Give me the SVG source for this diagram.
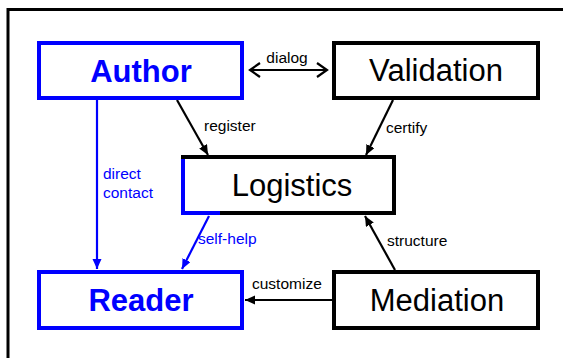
<svg xmlns="http://www.w3.org/2000/svg" width="563" height="358" viewBox="0 0 563 358">
<style>
.box{fill:#fff;stroke:#000;stroke-width:4}
.bbox{fill:#fff;stroke:#0000ff;stroke-width:4}
.big{font-family:"Liberation Sans",Arial,sans-serif;font-size:31px;text-anchor:middle;fill:#000}
.bigb{font-family:"Liberation Sans",Arial,sans-serif;font-size:31px;font-weight:bold;text-anchor:middle;fill:#0000ff}
.lbl{font-family:"Liberation Sans",Arial,sans-serif;font-size:15.5px;fill:#000}
.lblb{font-family:"Liberation Sans",Arial,sans-serif;font-size:15.5px;fill:#0000ff}
.c{fill:none;stroke:#000;stroke-width:2.2}
.cb{fill:none;stroke:#0000ff;stroke-width:2.2}
</style>
<defs>
<marker id="ak" markerUnits="userSpaceOnUse" markerWidth="11" markerHeight="10" refX="10" refY="4.5" orient="auto"><path d="M0,0 L10,4.5 L0,9 z" fill="#000"/></marker>
<marker id="ab" markerUnits="userSpaceOnUse" markerWidth="11" markerHeight="10" refX="10" refY="4.5" orient="auto"><path d="M0,0 L10,4.5 L0,9 z" fill="#0000ff"/></marker>
<marker id="ao" markerUnits="userSpaceOnUse" markerWidth="13" markerHeight="18" refX="11" refY="8" orient="auto-start-reverse"><path d="M1,1 L11,8 L1,15" fill="none" stroke="#000" stroke-width="2.2"/></marker>
</defs>
<rect x="0" y="0" width="563" height="358" fill="#fff"/>
<rect x="8" y="9.5" width="600" height="400" fill="none" stroke="#000" stroke-width="3"/>
<g id="connectors">
<line class="c" x1="250" y1="70" x2="327" y2="70" marker-start="url(#ao)" marker-end="url(#ao)"/>
<line class="c" x1="177" y1="100" x2="208" y2="155" marker-end="url(#ak)"/>
<line class="c" x1="393" y1="100" x2="366" y2="155" marker-end="url(#ak)"/>
<line class="cb" x1="97" y1="100" x2="97" y2="269" marker-end="url(#ab)"/>
<line class="cb" x1="209" y1="216" x2="182" y2="269" marker-end="url(#ab)"/>
<line class="c" x1="395" y1="270" x2="365" y2="216" marker-end="url(#ak)"/>
<line class="c" x1="332" y1="300" x2="245" y2="300" marker-end="url(#ak)"/>
<text class="lbl" x="287" y="63" text-anchor="middle">dialog</text>
<text class="lbl" x="204" y="131">register</text>
<text class="lbl" x="386" y="133">certify</text>
<text class="lblb" x="103" y="179">direct</text>
<text class="lblb" x="103" y="198">contact</text>
<text class="lblb" x="198" y="244">self-help</text>
<text class="lbl" x="387" y="246">structure</text>
<text class="lbl" x="252" y="289">customize</text>
</g>
<g id="author"><rect class="bbox" x="39" y="43" width="203" height="55"/><text class="bigb" x="141" y="82">Author</text></g>
<g id="validation"><rect class="box" x="334" y="43" width="204" height="55"/><text class="big" x="436" y="81">Validation</text></g>
<g id="logistics"><rect class="box" x="183" y="157" width="211" height="56"/><polyline points="183,159 183,213 220,213" fill="none" stroke="#0000ff" stroke-width="4"/><text class="big" x="292" y="196">Logistics</text></g>
<g id="reader"><rect class="bbox" x="39" y="272" width="203" height="56"/><text class="bigb" x="141" y="311">Reader</text></g>
<g id="mediation"><rect class="box" x="334" y="272" width="204" height="56"/><text class="big" x="437" y="311">Mediation</text></g>
</svg>
